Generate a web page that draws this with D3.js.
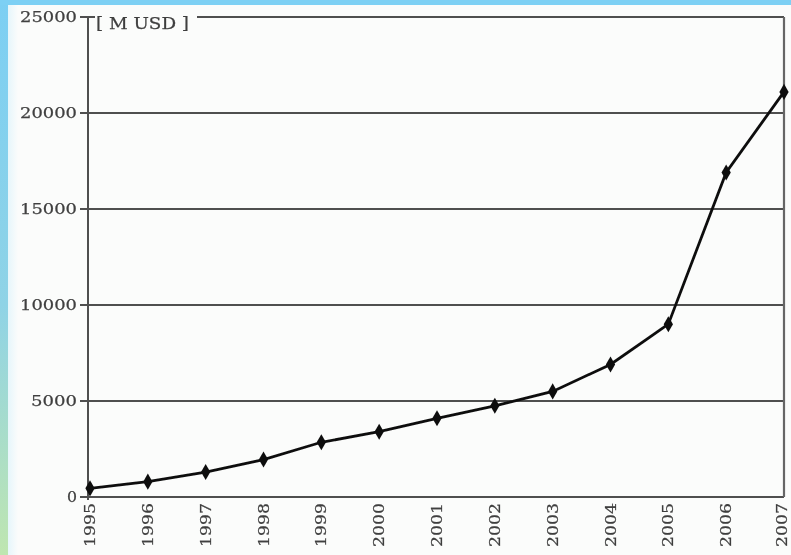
<!DOCTYPE html>
<html>
<head>
<meta charset="utf-8">
<script src="https://cdn.jsdelivr.net/npm/d3@7"></script>
<style>
  html, body { margin: 0; padding: 0; background: #fbfcfb; }
  svg { display: block; }
  .lbl { font-family: "DejaVu Serif", serif; fill: #3f3f3f; stroke: #3f3f3f; stroke-width: 0.25; }
</style>
</head>
<body>
<div id="chart"></div>
<script>
var years = [1995, 1996, 1997, 1998, 1999, 2000, 2001, 2002, 2003, 2004, 2005, 2006, 2007];
var values = [450, 800, 1300, 1950, 2850, 3400, 4100, 4750, 5500, 6900, 9000, 16900, 21100];
var yTicks = [0, 5000, 10000, 15000, 20000, 25000];
var unitLabel = "[ M USD ]";

var width = 791, height = 555;

var svg = d3.select("#chart")
  .append("svg")
  .attr("width", width)
  .attr("height", height);

// soft scan look
var defs = svg.append("defs");
defs.append("filter").attr("id", "soft")
  .append("feGaussianBlur").attr("stdDeviation", 0.6);

var grad = defs.append("linearGradient").attr("id", "edge")
  .attr("x1", 0).attr("y1", 0).attr("x2", 0).attr("y2", 1);
grad.append("stop").attr("offset", "0%").attr("stop-color", "#7ccff3");
grad.append("stop").attr("offset", "55%").attr("stop-color", "#8fd3e6");
grad.append("stop").attr("offset", "100%").attr("stop-color", "#bfe6b0");

var fade = defs.append("linearGradient").attr("id", "fade")
  .attr("x1", 0).attr("y1", 0).attr("x2", 1).attr("y2", 0);
fade.append("stop").attr("offset", "0%").attr("stop-color", "#e6f6fb");
fade.append("stop").attr("offset", "100%").attr("stop-color", "#fbfcfb");

// paper and blue frame
svg.append("rect").attr("width", width).attr("height", height).attr("fill", "#fbfcfb");
svg.append("rect").attr("x", 8).attr("y", 5).attr("width", 10).attr("height", height).attr("fill", "url(#fade)");
svg.append("rect").attr("x", 0).attr("y", 0).attr("width", 8).attr("height", height).attr("fill", "url(#edge)");
svg.append("rect").attr("x", 0).attr("y", 0).attr("width", width).attr("height", 5).attr("fill", "#7dd0f4");

var x = d3.scaleLinear().domain([1995, 2007]).range([90, 784]);
var y = d3.scaleLinear().domain([0, 25000]).range([497, 17]);

var g = svg.append("g").attr("filter", "url(#soft)");

// horizontal grid lines
g.selectAll(".grid")
  .data(yTicks)
  .enter()
  .append("line")
  .attr("class", "grid")
  .attr("x1", function(d) { return d === 25000 ? 197 : 80; })
  .attr("x2", x(2007))
  .attr("y1", function(d) { return y(d); })
  .attr("y2", function(d) { return y(d); })
  .attr("stroke", "#505050")
  .attr("stroke-width", 2);

// short tick at the top, left of the axis
g.append("line")
  .attr("x1", 80).attr("x2", 95)
  .attr("y1", y(25000)).attr("y2", y(25000))
  .attr("stroke", "#505050").attr("stroke-width", 2);

// left and right frame lines
g.append("line")
  .attr("x1", 88).attr("x2", 88)
  .attr("y1", y(25000)).attr("y2", y(0) + 3)
  .attr("stroke", "#505050").attr("stroke-width", 2);
g.append("line")
  .attr("x1", x(2007)).attr("x2", x(2007))
  .attr("y1", y(25000)).attr("y2", y(0))
  .attr("stroke", "#666").attr("stroke-width", 2.2);

// y labels
g.selectAll(".ylab")
  .data(yTicks)
  .enter()
  .append("text")
  .attr("class", "lbl")
  .attr("x", 77)
  .attr("y", function(d) { return y(d) + 5; })
  .attr("text-anchor", "end")
  .attr("font-size", 15)
  .attr("textLength", function(d) { return d === 0 ? 10 : d < 10000 ? 46 : 57; })
  .attr("lengthAdjust", "spacingAndGlyphs")
  .text(function(d) { return d; });

// unit label
g.append("text")
  .attr("class", "lbl")
  .attr("x", 96)
  .attr("y", 29)
  .attr("font-size", 17)
  .attr("textLength", 93)
  .attr("lengthAdjust", "spacingAndGlyphs")
  .text(unitLabel);

// x labels, rotated; keep the last one inside the page
g.selectAll(".xlab")
  .data(years)
  .enter()
  .append("text")
  .attr("class", "lbl")
  .attr("font-size", 15)
  .attr("text-anchor", "end")
  .attr("textLength", 44)
  .attr("lengthAdjust", "spacingAndGlyphs")
  .attr("transform", function(d) {
    return "translate(" + Math.min(x(d) + 5, width - 4) + ",503) rotate(-90)";
  })
  .text(function(d) { return d; });

// data line
var line = d3.line()
  .x(function(d, i) { return x(years[i]); })
  .y(function(d) { return y(d); });

g.append("path")
  .datum(values)
  .attr("d", line)
  .attr("fill", "none")
  .attr("stroke", "#111")
  .attr("stroke-width", 2.8);

g.selectAll(".pt")
  .data(values)
  .enter()
  .append("path")
  .attr("class", "pt")
  .attr("d", d3.symbol().type(d3.symbolDiamond).size(75))
  .attr("transform", function(d, i) { return "translate(" + x(years[i]) + "," + y(d) + ")"; })
  .attr("fill", "#111");
</script>
</body>
</html>
